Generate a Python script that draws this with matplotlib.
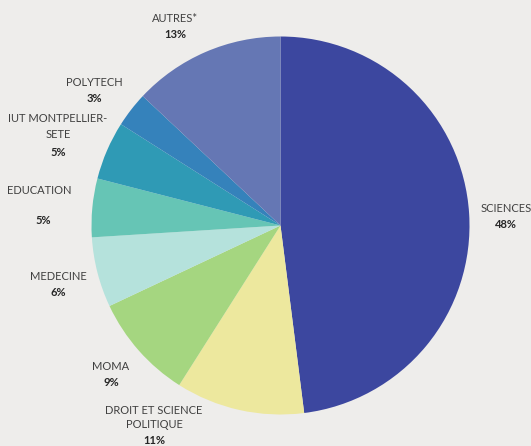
import matplotlib
matplotlib.use("Agg")
import matplotlib.pyplot as plt

categories = ["SCIENCES", "DROIT ET SCIENCE\nPOLITIQUE", "MOMA", "MEDECINE",
              "EDUCATION", "IUT MONTPELLIER-\nSETE", "POLYTECH", "AUTRES*"]
values = [48, 11, 9, 6, 5, 5, 3, 13]
colors = ["#3c479f", "#ede89e", "#a5d680", "#b5e2dc",
          "#66c5b5", "#2f9ab5", "#3582bb", "#6577b4"]

# label anchor positions in pixels (x, y of name first line, y of percent)
name_pos = [(506, 208), (154, 410), (111, 367), (58, 276),
            (39, 190), (58, 118), (94, 82), (175, 18)]
pct_pos = [(506, 224), (154, 441), (111, 383), (58, 292),
           (43, 221), (58, 153), (94, 98), (175, 34)]

W, H = 531, 446
bg = "#eeedeb"
fig = plt.figure(figsize=(W / 100, H / 100), dpi=100, facecolor=bg)
cx, cy, r = 280.5, 225.5, 189
ax = fig.add_axes([(cx - r) / W, (H - cy - r) / H, 2 * r / W, 2 * r / H])
ax.set_facecolor(bg)
ax.pie(values, colors=colors, startangle=90, counterclock=False,
       wedgeprops=dict(linewidth=0))
ax.set_xlim(-1, 1)
ax.set_ylim(-1, 1)
ax.axis("off")

font = ["Lato", "DejaVu Sans"]
fs = 8.0
for name, (nx, ny), (px, py), v in zip(categories, name_pos, pct_pos, values):
    lines = name.split("\n")
    step = 17 if len(lines) > 1 and py - ny > 32 else 15
    for i, ln in enumerate(lines):
        fig.text(nx / W, 1 - (ny + i * step) / H, ln, ha="center", va="center",
                 fontsize=fs, color="#404040", family=font)
    fig.text(px / W, 1 - py / H, f"{v}%", ha="center", va="center",
             fontsize=fs, color="#262626", fontweight="bold", family=font)

fig.savefig("out.png", dpi=100, facecolor=bg)
